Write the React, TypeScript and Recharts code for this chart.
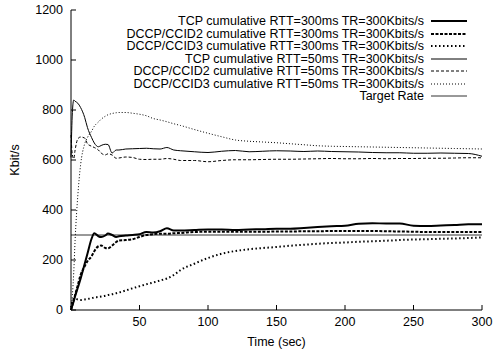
import React from 'react';
import { LineChart, Line, XAxis, YAxis, ReferenceLine } from 'recharts';

const times = [0, 1, 2, 3, 5, 7, 10, 12, 15, 17, 20, 22, 25, 27, 30, 33, 35, 40, 45, 50, 55, 60, 65, 70, 75, 80, 90, 100, 110, 120, 130, 140, 150, 160, 170, 180, 190, 200, 210, 220, 230, 240, 250, 260, 270, 280, 290, 300];

const tcp300 = [0, 18, 35, 55, 90, 125, 185, 225, 285, 307, 295, 292, 298, 306, 300, 292, 295, 298, 300, 303, 312, 310, 315, 327, 318, 318, 320, 322, 322, 320, 322, 323, 325, 325, 328, 332, 335, 337, 345, 347, 346, 346, 337, 336, 338, 340, 343, 343];
const ccid2_300 = [0, 20, 40, 60, 100, 140, 175, 195, 215, 235, 255, 258, 248, 247, 258, 272, 278, 280, 283, 292, 300, 303, 305, 305, 307, 308, 312, 313, 313, 313, 313, 313, 314, 314, 315, 315, 316, 316, 316, 316, 315, 314, 313, 312, 312, 312, 312, 312];
const ccid3_300 = [10, 35, 45, 45, 42, 40, 42, 44, 47, 50, 52, 54, 57, 60, 63, 67, 70, 78, 87, 95, 103, 110, 118, 126, 140, 160, 185, 208, 225, 236, 243, 248, 252, 257, 261, 265, 268, 270, 273, 275, 277, 280, 282, 283, 285, 286, 288, 290];
const tcp50 = [610, 790, 840, 835, 827, 810, 770, 730, 690, 668, 653, 658, 663, 662, 628, 640, 640, 644, 645, 646, 647, 645, 644, 650, 640, 637, 633, 630, 635, 638, 633, 635, 637, 636, 634, 636, 634, 633, 632, 630, 629, 629, 627, 627, 628, 627, 626, 615];
const ccid2_50 = [700, 620, 605, 640, 685, 692, 688, 665, 655, 650, 640, 628, 620, 625, 620, 607, 608, 612, 610, 603, 602, 603, 603, 606, 603, 598, 598, 593, 598, 601, 601, 602, 603, 603, 604, 605, 606, 605, 605, 606, 605, 606, 606, 607, 607, 608, 609, 609];
const ccid3_50 = [0, 60, 150, 280, 460, 580, 665, 690, 715, 735, 752, 763, 775, 781, 786, 789, 790, 790, 787, 783, 777, 766, 760, 753, 745, 738, 722, 707, 693, 680, 675, 672, 669, 665, 661, 657, 655, 654, 653, 652, 651, 650, 649, 648, 647, 646, 645, 644];
const TARGET_RATE = 300;

const xTicks = [50, 100, 150, 200, 250, 300];
const yTicks = [0, 200, 400, 600, 800, 1000, 1200];

const seriesNames = [
  'TCP cumulative RTT=300ms TR=300Kbits/s',
  'DCCP/CCID2 cumulative RTT=300ms TR=300Kbits/s',
  'DCCP/CCID3 cumulative RTT=300ms TR=300Kbits/s',
  'TCP cumulative RTT=50ms TR=300Kbits/s',
  'DCCP/CCID2 cumulative RTT=50ms TR=300Kbits/s',
  'DCCP/CCID3 cumulative RTT=50ms TR=300Kbits/s',
  'Target Rate',
];

const seriesKeys = ['tcp300', 'ccid2_300', 'ccid3_300', 'tcp50', 'ccid2_50', 'ccid3_50'];
const seriesValues = [tcp300, ccid2_300, ccid3_300, tcp50, ccid2_50, ccid3_50];

const styles = [
  { stroke: '#000', width: 2, dash: undefined as string | undefined },
  { stroke: '#000', width: 2, dash: '3 1.5' },
  { stroke: '#000', width: 2, dash: '1.5 2.5' },
  { stroke: '#000', width: 1, dash: undefined },
  { stroke: '#000', width: 1, dash: '3 2' },
  { stroke: '#000', width: 1, dash: '1 2' },
  { stroke: '#333', width: 1, dash: undefined },
];

const data = times.map((t, i) => {
  const row: Record<string, number> = { t };
  seriesKeys.forEach((k, j) => {
    row[k] = seriesValues[j][i];
  });
  return row;
});

const FONT = 'Liberation Sans, Arial, Helvetica, sans-serif';
const FS = 12.5;
const TICK = 5;

const LeftTick = (props: any) => {
  const { x, y, payload } = props;
  return (
    <g>
      <line x1={x} x2={x + TICK} y1={y} y2={y} stroke="#000" />
      <text x={x - 8} y={y} dy="0.35em" textAnchor="end" fontSize={FS} fontFamily={FONT} fill="#000">
        {payload.value}
      </text>
    </g>
  );
};

const RightTick = (props: any) => {
  const { x, y } = props;
  return <line x1={x} x2={x - TICK} y1={y} y2={y} stroke="#000" />;
};

const BottomTick = (props: any) => {
  const { x, y, payload } = props;
  return (
    <g>
      <line x1={x} x2={x} y1={y} y2={y - TICK} stroke="#000" />
      <text x={x} y={y + 12} dy="0.35em" textAnchor="middle" fontSize={FS} fontFamily={FONT} fill="#000">
        {payload.value}
      </text>
    </g>
  );
};

const TopTick = (props: any) => {
  const { x, y } = props;
  return <line x1={x} x2={x} y1={y} y2={y + TICK} stroke="#000" />;
};

export default function App() {
  return (
    <div style={{ position: 'absolute', left: 0, top: 0, width: 493, height: 352, background: '#fff' }}>
      <LineChart
        width={493}
        height={352}
        data={data}
        margin={{ top: 10, right: 11, bottom: 0, left: 0 }}
        style={{ fontFamily: FONT }}
      >
        <XAxis
          dataKey="t"
          type="number"
          domain={[0, 300]}
          ticks={xTicks}
          height={42}
          tickSize={0}
          tickMargin={0}
          tickLine={false}
          axisLine={{ stroke: '#000', strokeWidth: 1 }}
          tick={<BottomTick />}
          interval={0}
          label={{
            content: (p: any) => {
              const vb = p.viewBox;
              return (
                <text x={vb.x + vb.width / 2} y={vb.y + 36} textAnchor="middle" fontSize={FS} fontFamily={FONT} fill="#000">
                  Time (sec)
                </text>
              );
            },
          }}
        />
        <XAxis
          xAxisId="top"
          orientation="top"
          dataKey="t"
          type="number"
          domain={[0, 300]}
          ticks={xTicks}
          height={0}
          tickSize={0}
          tickMargin={0}
          tickLine={false}
          axisLine={{ stroke: '#000', strokeWidth: 1 }}
          tick={<TopTick />}
          interval={0}
        />
        <YAxis
          type="number"
          domain={[0, 1200]}
          ticks={yTicks}
          width={71}
          tickSize={0}
          tickMargin={0}
          tickLine={false}
          axisLine={{ stroke: '#000', strokeWidth: 1 }}
          tick={<LeftTick />}
          interval={0}
          label={{
            content: (p: any) => {
              const vb = p.viewBox;
              const cx = 15;
              const cy = vb.y + vb.height / 2;
              return (
                <text x={cx} y={cy} transform={`rotate(-90 ${cx} ${cy})`} textAnchor="middle" dy="0.35em" fontSize={FS} fontFamily={FONT} fill="#000">
                  Kbit/s
                </text>
              );
            },
          }}
        />
        <YAxis
          yAxisId="right"
          orientation="right"
          type="number"
          domain={[0, 1200]}
          ticks={yTicks}
          width={0}
          tickSize={0}
          tickMargin={0}
          tickLine={false}
          axisLine={{ stroke: '#000', strokeWidth: 1 }}
          tick={<RightTick />}
          interval={0}
        />
        <ReferenceLine y={TARGET_RATE} stroke={styles[6].stroke} strokeWidth={styles[6].width} ifOverflow="hidden" />
        {seriesKeys.map((k, i) => (
          <Line
            key={k}
            dataKey={k}
            name={seriesNames[i]}
            type="monotone"
            stroke={styles[i].stroke}
            strokeWidth={styles[i].width}
            strokeDasharray={styles[i].dash}
            dot={false}
            activeDot={false}
            isAnimationActive={false}
          />
        ))}
      </LineChart>
      <div
        style={{
          position: 'absolute',
          top: 15,
          right: 26,
          fontFamily: FONT,
          fontSize: FS,
          lineHeight: '12.5px',
          color: '#000',
        }}
      >
        {seriesNames.map((n, i) => (
          <div key={n} style={{ display: 'flex', justifyContent: 'flex-end', alignItems: 'center', height: 12.5, whiteSpace: 'nowrap' }}>
            <span>{n}</span>
            <svg width={36} height={6} style={{ marginLeft: 7, display: 'block' }}>
              <line x1={0} x2={36} y1={3} y2={3} stroke={styles[i].stroke} strokeWidth={styles[i].width} strokeDasharray={styles[i].dash} />
            </svg>
          </div>
        ))}
      </div>
    </div>
  );
}
